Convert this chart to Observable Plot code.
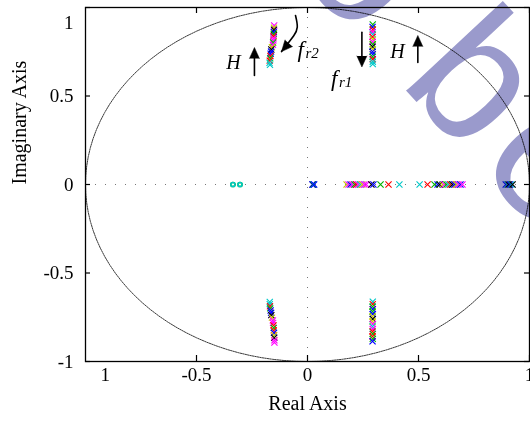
<!DOCTYPE html>
<html>
<head>
<meta charset="utf-8">
<script src="https://cdn.jsdelivr.net/npm/d3@7"></script>
<script src="https://cdn.jsdelivr.net/npm/@observablehq/plot@0.6"></script>
<style>
  html, body { margin: 0; padding: 0; background: #fff; overflow: hidden; }
  #wrap { position: relative; width: 530px; height: 424px; overflow: hidden; }
  #wrap svg { position: absolute; left: 0; top: 0; background: transparent; }
  #wm {
    position: absolute; left: 402px; top: -138px;
    transform-origin: 0 0; transform: rotate(47deg);
    font: 182px "Liberation Sans", Arial, sans-serif; line-height: 180px;
    letter-spacing: 12px; white-space: nowrap; color: #9a9acc;
    mix-blend-mode: multiply; pointer-events: none;
  }
</style>
</head>
<body>
<div id="wrap"><div id="wm"><span style="margin-right:45px">o</span>be</div></div>
<script>
// ---- colour codes of the series (MATLAB style) ----
const colorCodes = ["r", "g", "b", "c", "m", "y", "k"];
const colorHex   = ["#ff0000", "#00b400", "#0000ff", "#00c8c8", "#ff00ff", "#c8c800", "#000000"];

// ---- upper-left pole column ----
const ulRe  = [-0.150,-0.151,-0.151,-0.152,-0.152,-0.153,-0.153,-0.154,-0.155,-0.156,-0.160,-0.163,-0.164,-0.166,-0.167,-0.168,-0.170,-0.171,-0.169];
const ulIm  = [0.898,0.886,0.874,0.862,0.850,0.838,0.826,0.814,0.802,0.790,0.775,0.763,0.751,0.739,0.726,0.713,0.700,0.688,0.676];
const ulCol = ["m","y","k","b","g","r","m","m","g","m","y","k","b","b","r","g","r","c","c"];

// ---- upper-right pole column ----
const urRe  = [0.294,0.293,0.294,0.293,0.294,0.293,0.294,0.293,0.294,0.293,0.294,0.293,0.294,0.293,0.294,0.294,0.294];
const urIm  = [0.904,0.890,0.876,0.862,0.848,0.834,0.820,0.806,0.792,0.778,0.764,0.750,0.736,0.722,0.708,0.694,0.680];
const urCol = ["g","b","r","m","c","r","y","m","g","k","y","b","b","g","r","c","c"];

// ---- lower-left pole column ----
const llRe  = [-0.170,-0.170,-0.169,-0.168,-0.166,-0.164,-0.163,-0.160,-0.156,-0.155,-0.153,-0.152,-0.152,-0.151,-0.150,-0.150,-0.149,-0.149];
const llIm  = [-0.664,-0.676,-0.688,-0.700,-0.712,-0.725,-0.738,-0.752,-0.768,-0.782,-0.796,-0.810,-0.824,-0.838,-0.852,-0.866,-0.880,-0.893];
const llCol = ["c","c","r","g","b","b","k","y","m","m","r","g","r","b","y","k","m","m"];

// ---- lower-right pole column ----
const lrRe  = [0.294,0.294,0.293,0.294,0.293,0.294,0.293,0.294,0.293,0.294,0.293,0.294,0.293,0.294,0.293,0.294,0.293];
const lrIm  = [-0.662,-0.676,-0.690,-0.704,-0.718,-0.732,-0.746,-0.760,-0.774,-0.788,-0.802,-0.816,-0.830,-0.844,-0.858,-0.872,-0.886];
const lrCol = ["c","r","g","b","g","b","y","k","y","m","c","m","r","g","r","g","b"];

// ---- real-axis poles ----
const raRe  = [0.022,0.025,0.027,0.030,
               0.176,0.185,0.194,0.203,0.212,0.220,0.229,0.238,0.247,0.256,0.265,0.288,0.297,0.329,0.365,0.414,
               0.505,0.541,0.572,0.586,0.595,0.608,0.617,0.626,0.635,0.644,0.653,0.662,0.671,0.680,0.689,0.698,
               0.893,0.900,0.906,0.912,0.918,0.924];
const raCol = ["b","k","c","b",
               "y","m","b","m","g","r","m","c","y","m","m","k","b","g","r","c",
               "c","r","g","b","k","y","m","g","c","r","k","b","y","m","b","m",
               "b","c","k","b","c","k"];

// ---- real-axis zeros (circles) ----
const zRe  = [-0.336,-0.336,-0.304,-0.304];
const zCol = ["g","c","g","c"];

// ---- axes ----
const xTicks = [-0.5, 0, 0.5, 1];
const xTickLabels = ["-0.5", "0", "0.5", "1"];
const xLeftLabel = ["1"];
const yTicks = [-1, -0.5, 0, 0.5];
const yTickLabels = ["-1", "-0.5", "0", "0.5"];
const yTopLabel = ["1"];
const allTicks = [-1, -0.5, 0, 0.5, 1];
const xTitle = "Real Axis";
const yTitle = "Imaginary Axis";

// ---- annotations ----
const hLabelX = [-0.333, 0.405];
const hLabelY = [0.689, 0.751];
const fLabelX = [-0.045, 0.106];
const fLabelY = [0.763, 0.599];
const fSub = ["r2", "r1"];
const arrowX1 = [-0.239, 0.497, 0.245];
const arrowY1 = [0.616, 0.689, 0.860];
const arrowX2 = [-0.239, 0.497, 0.245];
const arrowY2 = [0.774, 0.842, 0.664];
const arrowRot = [0, 0, 180];
const curveX = [-0.054, -0.046, -0.062, -0.090, -0.117];
const curveY = [0.955, 0.889, 0.840, 0.795, 0.751];

const pts = (re, im, col) => re.map((v, i) => ({re: v, im: im ? im[i] : 0, c: col[i]}));
const poles = [
  ...pts(ulRe, ulIm, ulCol), ...pts(urRe, urIm, urCol),
  ...pts(llRe, llIm, llCol), ...pts(lrRe, lrIm, lrCol),
  ...pts(raRe, null, raCol)
];
const zeros = pts(zRe, null, zCol);
const circle = d3.range(0, 361, 3).map(a => ({x: Math.cos(a * Math.PI / 180), y: Math.sin(a * Math.PI / 180)}));
const straightArrows = arrowX1.map((v, i) => ({x1: v, y1: arrowY1[i], x2: arrowX2[i], y2: arrowY2[i], rot: arrowRot[i]}));
const curve = curveX.map((v, i) => ({x: v, y: curveY[i]}));
const curveTip = [{x: curveX[curveX.length - 1], y: curveY[curveY.length - 1], rot: 221}];

const W = 530, H = 424, mL = 85, mR = 1, mT = 7, mB = 63;
const fw = W - mL - mR, fh = H - mT - mB;

const chart = Plot.plot({
  width: W, height: H,
  marginLeft: mL, marginRight: mR, marginTop: mT, marginBottom: mB,
  x: {domain: [-1, 1], axis: null},
  y: {domain: [-1, 1], axis: null},
  color: {domain: colorCodes, range: colorHex},
  style: {fontFamily: "'Liberation Serif', 'Times New Roman', serif", fontSize: "19px", background: "transparent", overflow: "visible"},
  marks: [
    Plot.ruleX([0], {stroke: "#777", strokeDasharray: "1,9", strokeWidth: 1}),
    Plot.ruleY([0], {stroke: "#777", strokeDasharray: "1,9", strokeWidth: 1}),
    Plot.line(circle, {x: "x", y: "y", stroke: "#222", strokeWidth: 0.9, strokeDasharray: "1.5,1"}),
    Plot.dot(zeros, {x: "re", y: "im", stroke: "c", symbol: "circle", r: 2.1, strokeWidth: 1.5}),
    Plot.dot(poles, {x: "re", y: "im", stroke: "c", symbol: "times", r: 2.9, strokeWidth: 1.1}),
    // frame & ticks (inward, mirrored)
    Plot.frame({stroke: "black", strokeWidth: 1.3}),
    Plot.tickX(xTicks, {x: d => d, insetTop: fh - 6, stroke: "black", strokeWidth: 1.2}),
    Plot.tickX(xTicks, {x: d => d, insetBottom: fh - 6, stroke: "black", strokeWidth: 1.2}),
    Plot.tickY(allTicks, {y: d => d, insetRight: fw - 5, stroke: "black", strokeWidth: 1.2}),
    Plot.tickY(allTicks, {y: d => d, insetLeft: fw - 5, stroke: "black", strokeWidth: 1.2}),
    // tick labels
    Plot.text(xTicks, {x: d => d, frameAnchor: "bottom", dy: 19, text: (d, i) => xTickLabels[i], fill: "black"}),
    Plot.text(xLeftLabel, {frameAnchor: "bottom-left", dx: 15, dy: 19, text: d => d, fill: "black"}),
    Plot.text(yTicks, {y: d => d, frameAnchor: "left", dx: -12, textAnchor: "end", text: (d, i) => yTickLabels[i], fill: "black"}),
    Plot.text(yTopLabel, {frameAnchor: "top-left", dx: -12, dy: 8, textAnchor: "end", text: d => d, fill: "black"}),
    // axis titles
    Plot.text([xTitle], {frameAnchor: "bottom", dy: 48, text: d => d, fontSize: 20, fill: "black"}),
    Plot.text([yTitle], {frameAnchor: "left", dx: -66, rotate: -90, text: d => d, fontSize: 20, fill: "black"}),
    // annotations
    Plot.text(hLabelX, {x: d => d, y: (d, i) => hLabelY[i], text: () => "H", fontStyle: "italic", fontSize: 20, fill: "black"}),
    Plot.text(fLabelX, {x: d => d, y: (d, i) => fLabelY[i], text: () => "f", textAnchor: "start", fontStyle: "italic", fontSize: 23, fill: "black"}),
    Plot.text(fLabelX, {x: d => d, y: (d, i) => fLabelY[i], text: (d, i) => fSub[i], textAnchor: "start", dx: 8, dy: 4, fontStyle: "italic", fontSize: 15, fill: "black"}),
    Plot.arrow(straightArrows, {x1: "x1", y1: "y1", x2: "x2", y2: "y2", headLength: 0, insetEnd: 9, stroke: "black", strokeWidth: 1.6}),
    Plot.vector(straightArrows, {x: "x2", y: "y2", rotate: "rot", length: 11, r: 5, shape: "spike", anchor: "end", fill: "black", stroke: "black", strokeWidth: 0.5}),
    Plot.line(curve, {x: "x", y: "y", curve: "natural", stroke: "black", strokeWidth: 1.6}),
    Plot.vector(curveTip, {x: "x", y: "y", rotate: "rot", length: 11, r: 5, shape: "spike", anchor: "end", fill: "black", stroke: "black", strokeWidth: 0.5})
  ]
});
document.getElementById("wrap").prepend(chart);
</script>
</body>
</html>
